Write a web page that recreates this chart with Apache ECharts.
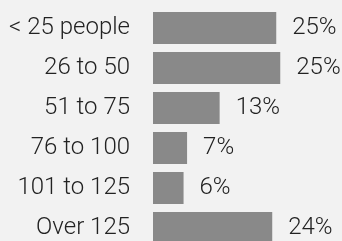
<!DOCTYPE html>
<html>
<head>
<meta charset="utf-8">
<script src="https://cdn.jsdelivr.net/npm/echarts@6/dist/echarts.min.js"></script>
<style>
  html, body { margin: 0; padding: 0; background: #f2f2f2; }
  #chart { width: 342px; height: 241px; }
</style>
</head>
<body>
<div id="chart"></div>
<script>
  // categories, top to bottom
  var groups = ['< 25 people', '26 to 50', '51 to 75', '76 to 100', '101 to 125', 'Over 125'];
  // share of respondents (%)
  var shares = [24.6, 25.4, 13.3, 6.8, 6.1, 23.8];

  var chart = echarts.init(document.getElementById('chart'));
  var option = {
    backgroundColor: '#f2f2f2',
    animation: false,
    grid: {
      left: 153, top: 8, width: 150.3, height: 240,
      containLabel: false,
      outerBoundsMode: 'none'
    },
    xAxis: {
      type: 'value',
      min: 0,
      max: 30,
      show: false
    },
    yAxis: {
      type: 'category',
      data: groups,
      inverse: true,
      axisLine: { show: false },
      axisTick: { show: false },
      axisLabel: {
        margin: 23,
        fontFamily: 'Roboto',
        fontWeight: 300,
        fontSize: 24,
        color: '#222'
      }
    },
    series: [{
      type: 'bar',
      data: shares,
      barWidth: 32,
      itemStyle: { color: '#898989' },
      label: {
        show: true,
        position: 'right',
        distance: 16,
        fontFamily: 'Roboto',
        fontWeight: 300,
        fontSize: 24,
        color: '#222',
        formatter: function (p) { return Math.round(p.value) + '%'; }
      }
    }]
  };
  chart.setOption(option);
</script>
</body>
</html>
